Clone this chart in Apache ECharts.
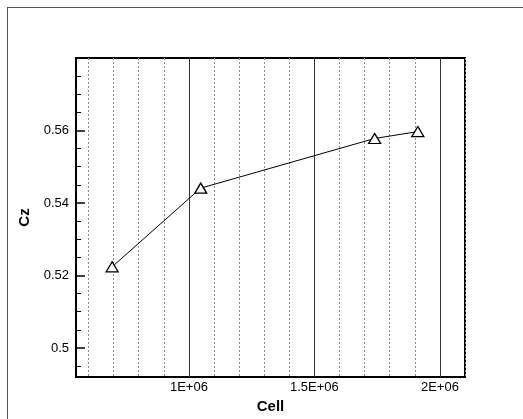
<!DOCTYPE html>
<html>
<head>
<meta charset="utf-8">
<script src="https://cdn.jsdelivr.net/npm/echarts@6/dist/echarts.min.js"></script>
<style>
  html, body { margin: 0; padding: 0; background: #fff; }
  #wrap { position: relative; width: 523px; height: 419px; overflow: hidden; }
  #frame { position: absolute; left: 7px; top: 7px; right: -2px; bottom: -2px; border-left: 1px solid #555; border-top: 1px solid #555; }
  #chart { position: absolute; left: 0; top: 0; width: 523px; height: 419px; }
</style>
</head>
<body>
<div id="wrap">
  <div id="frame"></div>
  <div id="chart"></div>
</div>
<script>
// data
const cells = [694000, 1047000, 1740000, 1912000]
const cz = [0.5224, 0.5441, 0.5578, 0.5597]

const xLabels = [1000000, 1500000, 2000000]
const yLabels = [0.5, 0.52, 0.54, 0.56]
const yMinor = [0.495, 0.505, 0.51, 0.515, 0.525, 0.53, 0.535, 0.545, 0.55, 0.555, 0.565, 0.57, 0.575]

const font = 'Liberation Sans, Arial, sans-serif'
const X_MIN = 550000
const X_MAX = 2100000

const xBase = {
  type: 'value',
  min: X_MIN,
  max: X_MAX,
  interval: 50000,
  position: 'bottom',
  axisLine: { show: false },
  axisTick: { show: false }
}

const E = echarts.init(document.getElementById('chart'))
E.setOption({
  animation: false,
  grid: {
    left: 76,
    top: 58,
    right: 58,
    bottom: 42,
    show: true,
    borderColor: '#000',
    borderWidth: 2,
    backgroundColor: 'transparent'
  },
  xAxis: [
    {
      ...xBase,
      axisLabel: { show: false },
      // minor grid every 1e5 (every other 5e4 tick)
      splitLine: {
        show: true,
        showMinLine: true,
        showMaxLine: true,
        lineStyle: { color: ['transparent', '#8c8c8c'], width: 1, type: [2, 2] }
      }
    },
    {
      ...xBase,
      name: 'Cell',
      nameLocation: 'middle',
      nameGap: 14,
      nameTextStyle: { fontFamily: font, fontSize: 15, fontWeight: 'bold', color: '#000' },
      axisLabel: {
        margin: 4,
        fontFamily: font,
        fontSize: 13,
        color: '#000',
        showMinLabel: false,
        showMaxLabel: false,
        formatter: (v) => (xLabels.indexOf(Math.round(v)) >= 0 ? Math.round(v) / 1e6 + 'E+06' : '')
      },
      splitLine: {
        show: true,
        showMinLine: true,
        showMaxLine: true,
        lineStyle: {
          color: ['transparent', 'transparent', 'transparent', 'transparent', 'transparent',
            'transparent', 'transparent', 'transparent', 'transparent', '#333'],
          width: 1
        }
      }
    }
  ],
  yAxis: [
    {
      type: 'value',
      min: 0.492,
      max: 0.58,
      position: 'left',
      name: 'Cz',
      nameLocation: 'middle',
      nameGap: 28,
      nameTextStyle: { fontFamily: font, fontSize: 15, fontWeight: 'bold', color: '#000' },
      axisLine: { show: false },
      splitLine: { show: false },
      axisTick: {
        show: true,
        inside: true,
        length: 9,
        customValues: yLabels,
        lineStyle: { color: '#000', width: 1.5 }
      },
      axisLabel: {
        margin: 7,
        fontFamily: font,
        fontSize: 13,
        color: '#000',
        customValues: yLabels,
        formatter: (v) => String(+v.toFixed(2))
      }
    },
    {
      type: 'value',
      min: 0.492,
      max: 0.58,
      position: 'left',
      axisLine: { show: false },
      splitLine: { show: false },
      axisLabel: { show: false },
      axisTick: {
        show: true,
        inside: true,
        length: 5,
        customValues: yMinor,
        lineStyle: { color: '#000', width: 1 }
      }
    }
  ],
  series: [
    {
      type: 'line',
      xAxisIndex: 0,
      yAxisIndex: 0,
      data: cells.map((c, i) => [c, cz[i]]),
      symbol: 'triangle',
      symbolSize: [12, 10],
      lineStyle: { color: '#000', width: 1 },
      itemStyle: { color: '#fff', borderColor: '#000', borderWidth: 1.3 },
      z: 5
    }
  ]
})
</script>
</body>
</html>
